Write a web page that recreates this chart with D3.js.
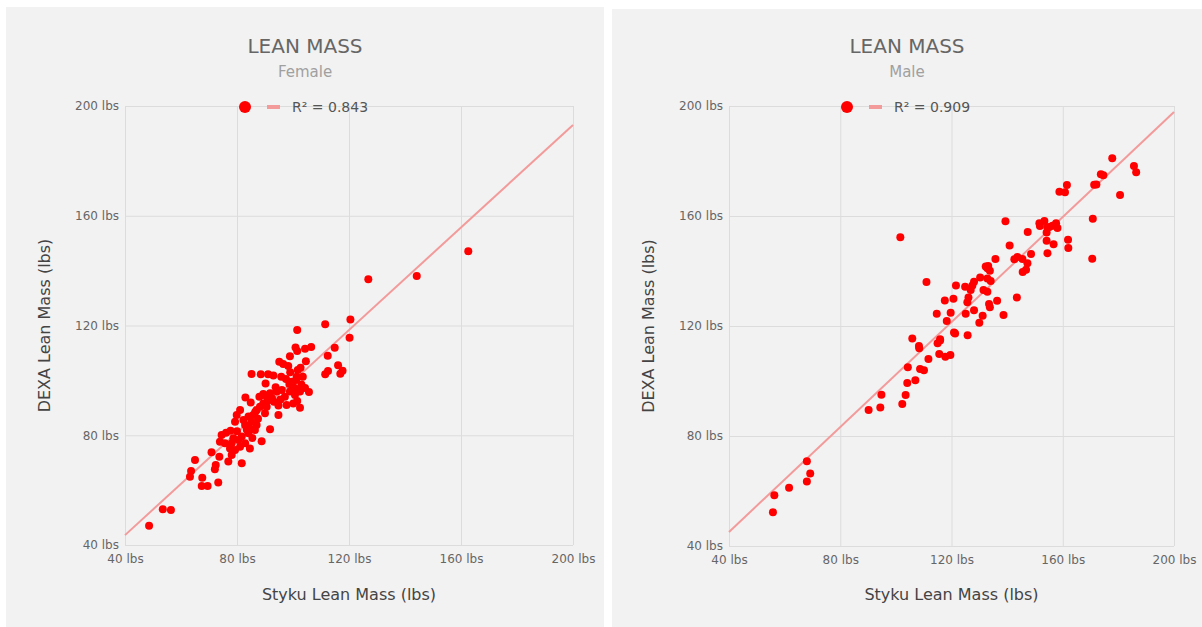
<!DOCTYPE html>
<html lang="en">
<head>
    <meta charset="UTF-8">
    <title>Lean Mass</title>
    <script src="https://cdn.jsdelivr.net/npm/d3@7/dist/d3.min.js"></script>

    <style>
        body{
            margin: 0;
            background: #ffffff;
        }
        text{
            font-family: "DejaVu Sans", Verdana, sans-serif;
        }
    </style>

</head>
<body>

<div id="container"></div>
<script>

    // tick values shared by both axes
    let ticks = [40, 80, 120, 160, 200];

    // female: [Styku, DEXA]
    let femalePoints = [
        [126.9,136.9],[111.5,120.5],[120.5,122.2],[120.2,115.5],[101.5,118.4],[114.9,111.9],[112.4,109],[116.1,105.5],
        [111.5,102.2],[112.5,103.4],[116.9,102.4],[117.7,103.5],[106.5,112.2],[104.3,111.5],[100.9,112],[101.5,110.7],
        [98.9,108.8],[104.6,107],[95.1,106.8],[96.5,106],[98.3,105.2],[102.7,104.6],[101.7,103.8],[103.5,101.3],
        [101.3,101.3],[101.1,100.1],[85.2,102.3],[88.5,102.2],[91.1,102.2],[93,101.8],[95.8,101.3],[90.2,98.9],
        [98.7,98.7],[100.1,97.7],[101.3,96.9],[104.3,97.2],[105.7,95.8],[98.9,95.9],[100.7,94.7],[102.5,95.9],
        [97.1,94],[97.7,91],[100.1,91.6],[101.5,92.5],[102.5,90],[83,93.8],[84.9,91.9],[88,94],[89.4,95],[90.6,94],
        [91.8,95.3],[94.2,95.9],[89.4,91.6],[91.2,92.8],[93.2,92.2],[94.8,90.8],[87,89.2],[88.2,90.4],[90.6,90.4],
        [94.8,87.4],[91.8,82.2],[88.8,77.8],[81.1,89.2],[79.9,87.4],[79.3,84.9],[82.3,85.6],[84.1,86.8],[85.8,87.4],
        [82.9,83.7],[85.2,84.9],[87,83.7],[84.6,82.5],[86.4,81.9],[84.1,80.7],[81.7,79.5],[80.5,78.3],[78.7,78.9],
        [82.9,77.1],[84.6,75.2],[81.1,75.8],[79.3,74.6],[78.1,77.1],[74.5,80.1],[76.1,80.9],[77.7,81.6],[73.9,77.6],
        [75.7,77.1],[77.5,75.2],[78.1,72.8],[76.9,70.4],[81.7,69.8],[73.7,72.2],[70.9,73.8],[65,71],[72.4,69.2],
        [72.1,67.6],[63.6,67],[63.2,64.9],[67.6,64.5],[67.4,61.5],[69.5,61.5],[73.3,62.8],[53.5,53],[56.4,52.8],
        [48.6,47],[144.2,138],[162.6,147.1],
        [86.5,88.5],[92.5,93.5],[96,96.5],[99.5,99.5],[83.5,82],[80,81.5],[87.5,86],[93.8,97.5],[97.5,100.5],
        [90,88],[85.5,79],[95.5,93],[103,98.5],[99,103]
    ];

    let malePoints = [
        [101.6,152.3],[111,136],[105.9,115.5],[115.9,115.2],[120.9,117.6],[121.3,117.3],[125.8,116.6],[118.3,121.8],
        [114.7,124.5],[119.7,124.8],[117.6,129.3],[120.7,129.9],[121.6,134.7],[125.1,124.5],[128.1,125.7],[130,121.2],
        [131.2,123.7],[125.7,128.6],[126.1,130.4],[126.9,133.1],[124.9,134.3],[127.5,134.7],[128.1,136.1],[130.3,137.6],
        [131.5,133.1],[132.9,132.5],[132.9,137.3],[134.1,136.4],[132.3,141.6],[133.2,141.8],[133.8,140.1],[132.9,141],
        [133.5,128],[133.8,126.8],[136.4,129.2],[138.7,124],[135.8,144.4],[140.9,149.3],[139.4,158.1],[143.5,130.4],
        [142.6,144.3],[143.7,145.1],[145.5,144.4],[147.3,142.8],[148.6,146.2],[145.6,139.6],[146.8,140.5],[147.4,154.2],
        [151.6,157.4],[151.8,156.4],[153.4,158.2],[154.5,155.8],[154.2,154],[155.2,156],[156.3,156.5],[157.6,157.4],
        [158.1,155.6],[154.2,151],[156.7,149.7],[154.5,146.5],[161.9,151.4],[162,148.4],[158.8,168.8],[160.8,168.6],
        [161.5,171.3],[170.6,144.5],[170.8,159],[171.3,171.4],[172.1,171.5],[173.7,175.2],[174.6,174.8],[177.8,181],
        [180.6,167.6],[185.6,178.2],[186.4,175.9],[108.3,112.7],[108.4,111.9],[104.3,105],[108.7,104.4],[110.1,103.9],
        [111.7,108],[104.1,99.3],[107,100.3],[103.5,94.9],[102.3,91.6],[94.8,95],[94.4,90.4],[90.2,89.5],[115.6,109.8],
        [117.8,108.8],[119.6,109.5],[115,113.7],[115.9,114.7],
        [68,70.8],[69.2,66.4],[68,63.5],[61.6,61.2],[56.3,58.5],[55.8,52.3]
    ];

    // trend line end points
    let femaleTrend = [[40, 43.6], [200, 193.1]];
    let maleTrend = [[40, 45.1], [200, 197.8]];

    let svg = d3.select("#container")
        .append('svg')
        .attr("width", 1202)
        .attr("height", 627);

    function drawPanel(p) {

        let g = svg.append("g");

        g.append("rect")
            .attr("x", p.left)
            .attr("y", p.top)
            .attr("width", p.width)
            .attr("height", 627 - p.top)
            .attr("fill", "#f2f2f2");

        let cx = p.left + p.width / 2;

        let x = d3.scaleLinear()
            .domain([40, 200])
            .range([p.x0, p.x1]);
        let y = d3.scaleLinear()
            .domain([40, 200])
            .range([p.y1, p.y0]);

        // grid
        g.append("g")
            .attr("transform", "translate(0," + p.y1 + ")")
            .call(d3.axisBottom(x).tickValues(ticks).tickSize(-(p.y1 - p.y0)).tickFormat(d => d + " lbs"))
            .call(a => a.select(".domain").remove())
            .call(a => a.selectAll("line").attr("stroke", "#dcdcdc"))
            .call(a => a.selectAll("text")
                .attr("y", 9)
                .attr("fill", "#666")
                .style("font-size", "12px"));

        g.append("g")
            .attr("transform", "translate(" + p.x0 + ",0)")
            .call(d3.axisLeft(y).tickValues(ticks).tickSize(-(p.x1 - p.x0)).tickFormat(d => d + " lbs"))
            .call(a => a.select(".domain").remove())
            .call(a => a.selectAll("line").attr("stroke", "#dcdcdc"))
            .call(a => a.selectAll("text")
                .attr("x", -6)
                .attr("fill", "#666")
                .style("font-size", "12px"));

        // trend line
        let line = d3.line()
            .x(d => x(d[0]))
            .y(d => y(d[1]));
        g.append("path")
            .datum(p.trend)
            .attr("d", line)
            .attr("fill", "none")
            .style("stroke", "#f39a9a")
            .style("stroke-width", "2px");

        g.selectAll(".dot")
            .data(p.points)
            .enter()
            .append("circle")
            .attr("cx", d => x(d[0]))
            .attr("cy", d => y(d[1]))
            .attr("r", 4)
            .attr("fill", "#ff0000");

        // titles
        g.append("text")
            .attr("x", cx)
            .attr("y", 53)
            .attr("text-anchor", "middle")
            .attr("fill", "#666")
            .style("font-size", "20px")
            .text("LEAN MASS");

        g.append("text")
            .attr("x", cx)
            .attr("y", 77)
            .attr("text-anchor", "middle")
            .attr("fill", "#a0a0a0")
            .style("font-size", "15px")
            .text(p.sub);

        // legend
        let lx = cx - 60;
        g.append("circle")
            .attr("cx", lx)
            .attr("cy", 107)
            .attr("r", 6)
            .attr("fill", "#ff0000");
        g.append("line")
            .attr("x1", lx + 22)
            .attr("x2", lx + 35)
            .attr("y1", 107)
            .attr("y2", 107)
            .style("stroke", "#f39a9a")
            .style("stroke-width", "4px");
        g.append("text")
            .attr("x", lx + 47)
            .attr("y", 111.5)
            .attr("fill", "#555")
            .style("font-size", "14px")
            .text(p.r2);

        // axis titles
        g.append("text")
            .attr("x", (p.x0 + p.x1) / 2)
            .attr("y", 600)
            .attr("text-anchor", "middle")
            .attr("fill", "#444")
            .style("font-size", "16px")
            .text("Styku Lean Mass (lbs)");

        g.append("text")
            .attr("transform", "translate(" + (p.x0 - 75) + "," + ((p.y0 + p.y1) / 2) + ") rotate(-90)")
            .attr("text-anchor", "middle")
            .attr("fill", "#444")
            .style("font-size", "16px")
            .text("DEXA Lean Mass (lbs)");
    }

    drawPanel({left: 6, top: 7, width: 598, x0: 125, x1: 573, y0: 106, y1: 545,
        points: femalePoints, trend: femaleTrend, sub: "Female", r2: "R² = 0.843"});
    drawPanel({left: 612, top: 9, width: 590, x0: 729, x1: 1174, y0: 106, y1: 546,
        points: malePoints, trend: maleTrend, sub: "Male", r2: "R² = 0.909"});

</script>
</body>
</html>
